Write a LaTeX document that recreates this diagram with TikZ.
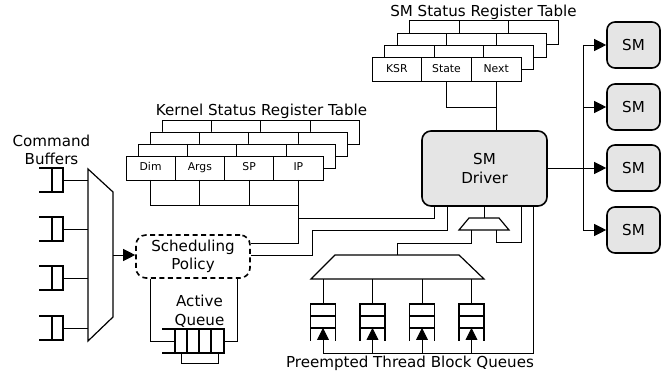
\documentclass[tikz,border=0pt]{standalone}
\usepackage{fontspec}
\setmainfont{DejaVu Sans}
\usetikzlibrary{arrows.meta}

\begin{document}
\begin{tikzpicture}
    [x=1pt,y=-1pt,
     font=\fontsize{15.1}{18.5}\selectfont,
     wire/.style={line width=0.9pt},
     cell/.style={draw,line width=0.9pt,fill=white,outer sep=0pt,inner sep=0pt,
       minimum width=49.3pt,minimum height=24pt,text height=8pt,text depth=2.5pt,
       font=\fontsize{10.8}{12}\selectfont},
     unit/.style={draw,line width=1.6pt,fill=gray!20,rounded corners=9pt,align=center},
     mux/.style={line width=1.2pt,line join=miter},
     fifo/.style={draw,line width=1.8pt,outer sep=0pt,inner sep=0pt},
     tip/.style={-{Triangle[length=12pt,width=12pt]}}]
    \useasboundingbox (0,0) rectangle (665,374);

    %command buffers and the input mux
    \draw[mux] (88,169) -- (113,192) -- (113,317) -- (88,341) -- cycle;
    \coordinate (cmuxin) at (88,255);
    \coordinate (cmuxout) at (113,255);
    \foreach \i/\y in {1/180,2/229,3/278,4/328} {
        \node[fifo,minimum width=11pt,minimum height=24pt] (buf\i) at (57.5,\y) {};
        \draw[fifo] (buf\i.north east) -- ++(-24,0);
        \draw[fifo] (buf\i.south east) -- ++(-24,0);
        \draw[wire] (buf\i.east) -- (buf\i.east -| cmuxin);
    }
    \node[align=center] (cmdlabel) at (51.5,150) {Command\\Buffers};

    %scheduling policy and its active queue
    \node[draw,line width=1.6pt,dash pattern=on 5pt off 3.5pt,rounded corners=10pt,
        minimum width=114pt,minimum height=43pt,align=center] (pol) at (193,256.5) {Scheduling\\Policy};
    \draw[wire,tip] (cmuxout) -- (cmuxout -| pol.west);
    \node[fifo,minimum width=49pt,minimum height=24pt] (aq) at (199.5,341) {};
    \foreach \x in {187,199,211}
        \draw[fifo] (\x,329) -- (\x,353);
    \draw[fifo] (aq.north west) -- ++(-13,0);
    \draw[fifo] (aq.south west) -- ++(-13,0);
    \draw[wire] ([xshift=6pt]aq.south west) -- ++(0,10) -| ([xshift=-6pt]aq.south east);
    \draw[wire] (aq.west) -| ([xshift=15pt]pol.south west);
    \draw[wire] (aq.east) -| ([xshift=-13pt]pol.south east);
    \node[align=center] (aqlabel) at (199.5,311) {Active\\Queue};

    %kernel status register table, back rows first
    \node (ktitle) at (261.5,111) {Kernel Status Register Table};
    \foreach \k in {3,2,1}
        \draw[wire,fill=white,shift={(12.3*\k,-12*\k)}] (126,156) rectangle (323,180)
            (175,156) -- (175,180) (224,156) -- (224,180) (274,156) -- (274,180);
    \node[cell] (dim) at (150.6,168) {Dim};
    \node[cell] (args) at (199.9,168) {Args};
    \node[cell] (sp) at (249.1,168) {SP};
    \node[cell] (ip) at (298.4,168) {IP};
    \coordinate (kbus) at (298.4,205);
    \draw[wire] (dim.south) |- (kbus);
    \draw[wire] (args.south) -- (args.south |- kbus);
    \draw[wire] (sp.south) -- (sp.south |- kbus);
    \draw[wire] (ip.south) |- (pol.east |- 0,243);

    %SM driver and the lines into it
    \node[unit,minimum width=125pt,minimum height=75pt] (drv) at (484.5,168.5) {SM\\Driver};
    \draw[wire] (ip.south |- 0,218) -| ([xshift=-50.5pt]drv.south);
    \draw[wire] (pol.east |- 0,255) -| (312,230) -| ([xshift=-37.5pt]drv.south);

    %small mux under the driver, big mux over the queues
    \draw[mux] (469,218) -- (499,218) -- (509,230) -- (459,230) -- cycle;
    \coordinate (smuxtop) at (484,218);
    \coordinate (smuxbot) at (484,230);
    \draw[mux] (335,255) -- (459,255) -- (484,279) -- (311,279) -- cycle;
    \coordinate (bmuxtop) at (397.5,255);
    \coordinate (bmuxbot) at (397.5,279);
    \draw[wire] (drv.south -| smuxtop) -- (smuxtop);
    \draw[wire] ([xshift=-12.5pt]smuxbot) -- ++(0,13) -| (bmuxtop);
    \draw[wire] ([xshift=12.5pt]smuxbot) -- ++(0,12) -| ([xshift=37pt]drv.south);

    %preempted thread block queues
    \coordinate (qbus) at (533,353);
    \foreach \i/\x in {1/323,2/372.5,3/422,4/471.5} {
        \node[fifo,minimum width=25pt,minimum height=24pt] (pq\i) at (\x,316) {};
        \draw[fifo] (pq\i.west) -- (pq\i.east);
        \draw[fifo] (pq\i.south west) -- ++(0,13);
        \draw[fifo] (pq\i.south east) -- ++(0,13);
        \draw[wire] (pq\i.north) -- (pq\i.north |- bmuxbot);
        \draw[wire,tip] (qbus -| pq\i) -- (pq\i.south);
    }
    \draw[wire] ([xshift=48.5pt]drv.south) |- (qbus -| pq1);
    \node (pqlabel) at (410,363) {Preempted Thread Block Queues};

    %SM status register table
    \node (stitle) at (483.5,12.5) {SM Status Register Table};
    \foreach \k in {3,2,1}
        \draw[wire,fill=white,shift={(12.5*\k,-12.2*\k)}] (372,57.5) rectangle (521,81.5)
            (421.7,57.5) -- (421.7,81.5) (471.3,57.5) -- (471.3,81.5);
    \node[cell,minimum width=49.7pt] (ksr) at (396.8,69.5) {KSR};
    \node[cell,minimum width=49.7pt] (state) at (446.5,69.5) {State};
    \node[cell,minimum width=49.7pt] (next) at (496.2,69.5) {Next};
    \draw[wire] (next.south) -- (next.south |- drv.north);
    \draw[wire] (state.south) |- (next.south |- 0,107);

    %the SMs
    \coordinate (smbus) at (583,168);
    \draw[wire] (drv.east) -- (drv.east -| smbus);
    \foreach \i/\y in {1/45,2/107,3/168,4/230} {
        \node[unit,minimum width=53pt,minimum height=46pt,rounded corners=8pt] (sm\i) at (633.5,\y) {SM};
        \draw[wire,tip] (sm\i.west -| smbus) -- (sm\i.west);
    }
    \draw[wire] (sm1.west -| smbus) -- (sm4.west -| smbus);
\end{tikzpicture}
\end{document}
